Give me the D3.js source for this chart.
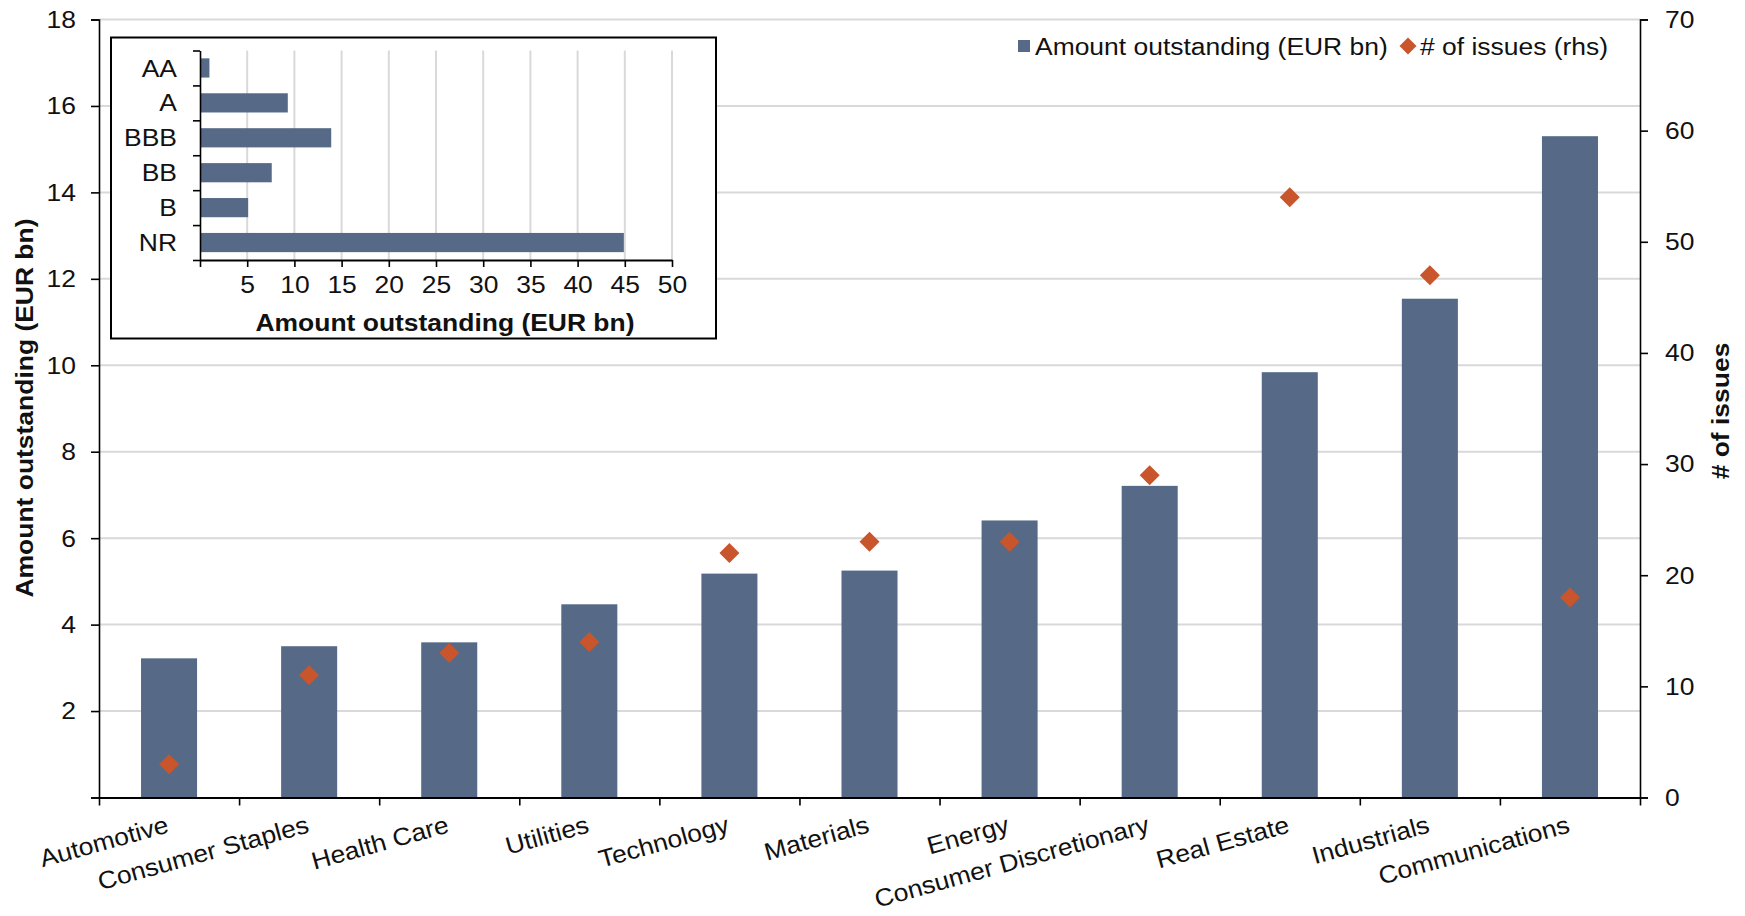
<!DOCTYPE html>
<html>
<head>
<meta charset="utf-8">
<script src="https://cdn.jsdelivr.net/npm/d3@7"></script>
<style>
  html, body { margin: 0; padding: 0; background: #fff; }
  svg { display: block; font-family: "Liberation Sans", Arial, sans-serif; }
</style>
</head>
<body>
<svg id="chart" width="1745" height="916"></svg>
<script>
// ---- Data ----
const categories = ["Automotive", "Consumer Staples", "Health Care", "Utilities", "Technology",
  "Materials", "Energy", "Consumer Discretionary", "Real Estate", "Industrials", "Communications"];
const amountOutstanding = [3.22, 3.50, 3.59, 4.47, 5.18, 5.25, 6.41, 7.21, 9.84, 11.54, 15.30];
const numIssues = [3, 11, 13, 14, 22, 23, 23, 29, 54, 47, 18];
const leftTicks = [2, 4, 6, 8, 10, 12, 14, 16, 18];
const rightTicks = [0, 10, 20, 30, 40, 50, 60, 70];

const ratings = ["AA", "A", "BBB", "BB", "B", "NR"];
const ratingAmounts = [1.0, 9.3, 13.9, 7.6, 5.1, 44.9];
const insetTicks = [5, 10, 15, 20, 25, 30, 35, 40, 45, 50];

const seriesNames = ["Amount outstanding (EUR bn)", "# of issues (rhs)"];

// ---- Style ----
const barColor = "#566a87";
const dotColor = "#c8552b";
const gridColor = "#d9d9d9";
const fs = 24.5;
const SX = 1.08; // horizontal text stretch to match reference glyph widths
const FONT = "Liberation Sans, Arial, sans-serif";

const svg = d3.select("#chart");

// helper: stretch d3-axis tick labels horizontally while keeping their anchor position
function stretchAxisText(g) {
  g.selectAll("text").each(function () {
    const t = d3.select(this);
    const tx = +t.attr("x") || 0, ty = +t.attr("y") || 0;
    t.attr("x", 0).attr("y", 0)
      .attr("transform", `translate(${tx},${ty}) scale(${SX},1)`)
      .attr("font-size", fs).attr("fill", "#111").attr("font-family", FONT);
  });
}

const X0 = 99, X1 = 1640, Y0 = 797.5, Y1 = 19.5;

const x = d3.scaleBand().domain(categories).range([X0, X1]).paddingInner(0.6).paddingOuter(0.3);
const xIdx = d3.scaleLinear().domain([0, categories.length]).range([X0, X1]);
const yL = d3.scaleLinear().domain([0, 18]).range([Y0, Y1]);
const yR = d3.scaleLinear().domain([0, 70]).range([Y0, Y1]);

// gridlines
svg.append("g").selectAll("line").data(leftTicks).join("line")
  .attr("x1", X0).attr("x2", X1)
  .attr("y1", d => yL(d)).attr("y2", d => yL(d))
  .attr("stroke", gridColor).attr("stroke-width", 2);

// bars
svg.append("g").selectAll("rect").data(categories).join("rect")
  .attr("x", d => x(d)).attr("width", x.bandwidth())
  .attr("y", (d, i) => yL(amountOutstanding[i]))
  .attr("height", (d, i) => yL(0) - yL(amountOutstanding[i]))
  .attr("fill", barColor);

// diamonds
const dsz = 10;
svg.append("g").selectAll("path").data(categories).join("path")
  .attr("transform", (d, i) => `translate(${x(d) + x.bandwidth() / 2},${yR(numIssues[i])})`)
  .attr("d", `M0,${-dsz}L${dsz},0L0,${dsz}L${-dsz},0Z`)
  .attr("fill", dotColor);

// left axis
const gL = svg.append("g").attr("transform", `translate(${X0},0)`)
  .call(d3.axisLeft(yL).tickValues(leftTicks.concat([0])).tickFormat(d => d === 0 ? "" : d).tickSize(8).tickPadding(15));
gL.select(".domain").attr("stroke", "#000").attr("stroke-width", 1.6);
gL.selectAll(".tick line").attr("stroke", "#000").attr("stroke-width", 1.6);
stretchAxisText(gL);

// right axis
const gR = svg.append("g").attr("transform", `translate(${X1},0)`)
  .call(d3.axisRight(yR).tickValues(rightTicks).tickSize(8).tickPadding(17));
gR.select(".domain").attr("stroke", "#000").attr("stroke-width", 1.6);
gR.selectAll(".tick line").attr("stroke", "#000").attr("stroke-width", 1.6);
stretchAxisText(gR);

// bottom axis (ticks at category boundaries)
const gB = svg.append("g").attr("transform", `translate(0,${Y0})`)
  .call(d3.axisBottom(xIdx).tickValues(d3.range(categories.length + 1)).tickFormat("").tickSize(8).tickSizeOuter(0));
gB.select(".domain").attr("stroke", "#000").attr("stroke-width", 2.2);
gB.selectAll(".tick line").attr("stroke", "#000").attr("stroke-width", 1.6);

// category labels
svg.append("g").selectAll("text").data(categories).join("text")
  .attr("transform", d => `translate(${x(d) + x.bandwidth() / 2 + 1},832) rotate(-15.5) scale(${SX},1)`)
  .attr("text-anchor", "end")
  .attr("font-size", fs).attr("fill", "#111")
  .text(d => d);

// axis titles
svg.append("text")
  .attr("transform", `translate(33,408) rotate(-90) scale(${SX},1)`)
  .attr("text-anchor", "middle").attr("font-size", fs).attr("font-weight", "bold").attr("fill", "#111")
  .text("Amount outstanding (EUR bn)");
svg.append("text")
  .attr("transform", `translate(1729,411) rotate(-90) scale(${SX},1)`)
  .attr("text-anchor", "middle").attr("font-size", fs).attr("font-weight", "bold").attr("fill", "#111")
  .text("# of issues");

// legend
const lg = svg.append("g");
lg.append("rect").attr("x", 1018).attr("y", 40).attr("width", 12).attr("height", 12).attr("fill", barColor);
lg.append("text").attr("transform", `translate(1035,55) scale(${SX},1)`)
  .attr("font-size", fs).attr("fill", "#111").text(seriesNames[0]);
const ls = 8.5;
lg.append("path").attr("transform", "translate(1408,46)")
  .attr("d", `M0,${-ls}L${ls},0L0,${ls}L${-ls},0Z`).attr("fill", dotColor);
lg.append("text").attr("transform", `translate(1420,55) scale(${SX},1)`)
  .attr("font-size", fs).attr("fill", "#111").text(seriesNames[1]);

// ---- Inset ----
const inset = svg.append("g");
inset.append("rect").attr("x", 111).attr("y", 37.5).attr("width", 605).attr("height", 301)
  .attr("fill", "#fff").attr("stroke", "#000").attr("stroke-width", 2);

const ix = d3.scaleLinear().domain([0, 50]).range([200, 672]);
const iy = d3.scaleBand().domain(ratings).range([50.5, 260]).paddingInner(0.45).paddingOuter(0.225);
const iyIdx = d3.scaleLinear().domain([0, ratings.length]).range([50.5, 260]);

inset.append("g").selectAll("line").data(insetTicks).join("line")
  .attr("x1", d => ix(d)).attr("x2", d => ix(d))
  .attr("y1", 50.5).attr("y2", 260)
  .attr("stroke", gridColor).attr("stroke-width", 2);

inset.append("g").selectAll("rect").data(ratings).join("rect")
  .attr("x", ix(0)).attr("y", d => iy(d))
  .attr("width", (d, i) => ix(ratingAmounts[i]) - ix(0))
  .attr("height", iy.bandwidth())
  .attr("fill", barColor);

const iL = inset.append("g").attr("transform", `translate(${ix(0)},0)`)
  .call(d3.axisLeft(iyIdx).tickValues(d3.range(ratings.length + 1)).tickFormat("").tickSize(7).tickSizeOuter(0));
iL.select(".domain").attr("stroke", "#000").attr("stroke-width", 1.6);
iL.selectAll(".tick line").attr("stroke", "#000").attr("stroke-width", 1.6);

const iB = inset.append("g").attr("transform", `translate(0,260)`)
  .call(d3.axisBottom(ix).tickValues([0].concat(insetTicks)).tickFormat(d => d === 0 ? "" : d).tickSize(7).tickPadding(9).tickSizeOuter(0));
iB.select(".domain").attr("stroke", "#000").attr("stroke-width", 1.8);
iB.selectAll(".tick line").attr("stroke", "#000").attr("stroke-width", 1.6);
stretchAxisText(iB);

inset.append("g").selectAll("text").data(ratings).join("text")
  .attr("transform", d => `translate(177,${iy(d) + iy.bandwidth() / 2}) scale(${SX},1)`)
  .attr("dy", "0.35em").attr("text-anchor", "end")
  .attr("font-size", fs).attr("fill", "#111").text(d => d);

inset.append("text").attr("transform", `translate(445,331) scale(${SX},1)`).attr("text-anchor", "middle")
  .attr("font-size", fs).attr("font-weight", "bold").attr("fill", "#111")
  .text("Amount outstanding (EUR bn)");
</script>
</body>
</html>
